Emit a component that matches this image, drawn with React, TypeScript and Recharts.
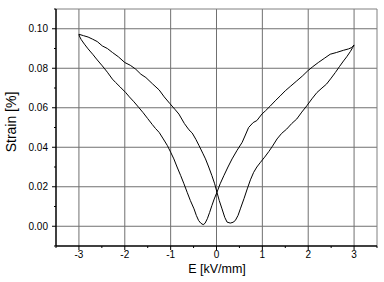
import React from 'react';
import { LineChart, Line, XAxis, YAxis, ReferenceLine } from 'recharts';

// rising field branch (-3 -> +3 kV/mm)
const risingE = [
  -3.0, -2.9, -2.8, -2.7, -2.6, -2.49, -2.38, -2.27, -2.14, -2.0, -1.88, -1.76, -1.65, -1.54, -1.4, -1.25,
  -1.14, -1.02, -0.9, -0.82, -0.7, -0.6, -0.53, -0.45, -0.38, -0.3, -0.24, -0.17, -0.1, -0.04, 0.01, 0.06,
  0.12, 0.18, 0.23, 0.3, 0.36, 0.41, 0.47, 0.52, 0.6, 0.67, 0.74, 0.81, 0.88, 0.96, 1.05, 1.14, 1.22, 1.32,
  1.42, 1.53, 1.64, 1.75, 1.86, 1.97, 2.08, 2.19, 2.3, 2.4, 2.5, 2.59, 2.68, 2.77, 2.84, 2.92, 2.97, 3.0,
];
const risingStrain = [
  0.0972, 0.0965, 0.0958, 0.0947, 0.0935, 0.0913, 0.09, 0.088, 0.0858, 0.0829, 0.0815, 0.0795, 0.077, 0.0753,
  0.0722, 0.069, 0.0655, 0.0622, 0.059, 0.0568, 0.052, 0.0488, 0.0472, 0.044, 0.0408, 0.037, 0.0341, 0.03,
  0.0256, 0.0215, 0.0172, 0.013, 0.0088, 0.0045, 0.0021, 0.0016, 0.002, 0.0029, 0.0055, 0.0088, 0.014, 0.0189,
  0.0235, 0.0273, 0.03, 0.0324, 0.035, 0.0378, 0.0405, 0.0442, 0.047, 0.0492, 0.052, 0.0543, 0.0578, 0.061,
  0.0645, 0.0677, 0.07, 0.072, 0.075, 0.0778, 0.0808, 0.0837, 0.0858, 0.0885, 0.0905, 0.0918,
];

// falling field branch (+3 -> -3 kV/mm)
const fallingE = [
  3.0, 2.95, 2.88, 2.77, 2.62, 2.48, 2.35, 2.22, 2.1, 1.99, 1.87, 1.75, 1.62, 1.5, 1.39, 1.28, 1.17, 1.07,
  0.99, 0.88, 0.8, 0.7, 0.63, 0.56, 0.45, 0.34, 0.25, 0.16, 0.08, 0.01, -0.05, -0.1, -0.15, -0.2, -0.25,
  -0.29, -0.34, -0.39, -0.44, -0.49, -0.57, -0.64, -0.71, -0.78, -0.86, -0.93, -1.0, -1.07, -1.16, -1.25,
  -1.33, -1.4, -1.5, -1.6, -1.69, -1.8, -1.9, -1.98, -2.1, -2.2, -2.27, -2.38, -2.49, -2.6, -2.7, -2.8,
  -2.88, -2.95, -2.99, -3.0,
];
const fallingStrain = [
  0.0918, 0.0905, 0.0898, 0.0891, 0.088, 0.0871, 0.085, 0.0829, 0.0808, 0.0787, 0.076, 0.0736, 0.071, 0.0686,
  0.066, 0.0635, 0.0608, 0.0585, 0.0568, 0.0535, 0.0525, 0.05, 0.0462, 0.0425, 0.0385, 0.0341, 0.03, 0.0256,
  0.0215, 0.0172, 0.0138, 0.0105, 0.007, 0.0038, 0.0015, 0.0008, 0.0015, 0.0029, 0.0055, 0.0088, 0.013,
  0.0172, 0.0215, 0.0256, 0.03, 0.0341, 0.0375, 0.0408, 0.0442, 0.0475, 0.0495, 0.0515, 0.0545, 0.0575, 0.06,
  0.063, 0.0655, 0.0677, 0.0705, 0.0728, 0.0745, 0.078, 0.0812, 0.0842, 0.0871, 0.0898, 0.0922, 0.0945,
  0.0963, 0.0972,
];

const xTicks = [-3.5, -3, -2.5, -2, -1.5, -1, -0.5, 0, 0.5, 1, 1.5, 2, 2.5, 3, 3.5];
const xMajor = [-3, -2, -1, 0, 1, 2, 3];
const yTicks = [-0.01, 0, 0.01, 0.02, 0.03, 0.04, 0.05, 0.06, 0.07, 0.08, 0.09, 0.1, 0.11];
const yMajor = [0, 0.02, 0.04, 0.06, 0.08, 0.1];

const loop = [
  ...risingE.map((e, i) => ({ e, strain: risingStrain[i] })),
  ...fallingE.map((e, i) => ({ e, strain: fallingStrain[i] })),
];

const FONT = '"Liberation Sans", Arial, sans-serif';

const XTick = (props: any) => {
  const { x, y, payload } = props;
  const v = payload.value;
  const major = Number.isInteger(v);
  return (
    <g>
      <line x1={x} x2={x} y1={y} y2={y + (major ? 4 : 2)} stroke="#000" />
      {major && (
        <text x={x} y={y + 12} textAnchor="middle" fontSize={10} fontFamily={FONT} fill="#000">
          {v}
        </text>
      )}
    </g>
  );
};

const YTick = (props: any) => {
  const { x, y, payload } = props;
  const v = payload.value;
  const major = Math.round(v * 100) % 2 === 0;
  return (
    <g>
      <line x1={x - (major ? 4 : 2)} x2={x} y1={y} y2={y} stroke="#000" />
      {major && (
        <text x={x - 8} y={y + 3.5} textAnchor="end" fontSize={10} fontFamily={FONT} fill="#000">
          {v.toFixed(2)}
        </text>
      )}
    </g>
  );
};

export default function App() {
  return (
    <div style={{ position: 'absolute', left: 0, top: 0, width: 384, height: 282, background: '#fff' }}>
      <LineChart width={384} height={282} data={loop} margin={{ top: 9, right: 7, bottom: 0, left: 10 }}>
        {xMajor.map((v) => (
          <ReferenceLine key={'vx' + v} x={v} stroke="#707070" strokeWidth={1} />
        ))}
        {yMajor.map((v) => (
          <ReferenceLine key={'hy' + v} y={v} stroke="#707070" strokeWidth={1} />
        ))}
        <ReferenceLine y={0.11} stroke="#808080" strokeWidth={1} />
        <ReferenceLine x={3.5} stroke="#808080" strokeWidth={1} />
        <XAxis
          type="number"
          dataKey="e"
          domain={[-3.5, 3.5]}
          ticks={xTicks}
          interval={0}
          height={36}
          tickSize={0}
          tickMargin={0}
          tick={<XTick />}
          axisLine={{ stroke: '#000', strokeWidth: 1.5 }}
          allowDataOverflow
          label={{
            content: () => (
              <text x={217} y={273} textAnchor="middle" fontSize={12.5} fontFamily={FONT} fill="#000">
                E [kV/mm]
              </text>
            ),
          }}
        />
        <YAxis
          type="number"
          domain={[-0.01, 0.11]}
          ticks={yTicks}
          interval={0}
          width={46}
          tickSize={0}
          tickMargin={0}
          tick={<YTick />}
          axisLine={{ stroke: '#000', strokeWidth: 1.5 }}
          allowDataOverflow
          label={{
            content: () => (
              <text
                x={16}
                y={122}
                transform="rotate(-90 16 122)"
                textAnchor="middle"
                fontSize={14}
                fontFamily={FONT}
                fill="#000"
              >
                Strain [%]
              </text>
            ),
          }}
        />
        <Line
          type="linear"
          dataKey="strain"
          stroke="#000"
          strokeWidth={1}
          dot={false}
          isAnimationActive={false}
        />
      </LineChart>
    </div>
  );
}
